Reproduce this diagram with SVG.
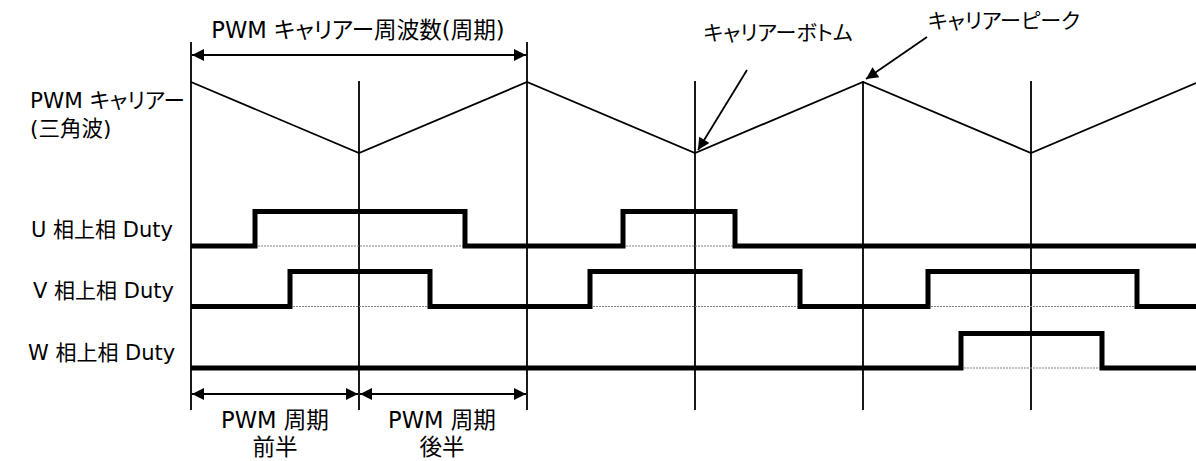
<svg xmlns="http://www.w3.org/2000/svg" width="1196" height="461" viewBox="0 0 1196 461">
<style>
text{font-family:"DejaVu Sans","Noto Sans CJK JP",sans-serif;font-size:21px;fill:#000;font-feature-settings:"palt"}
.t23{font-size:22.6px}
.t22{font-size:21.5px}
.thin{stroke:#000;stroke-width:1.8;fill:none}
.duty{stroke:#000;stroke-width:5;fill:none;stroke-linejoin:miter}
.dot{stroke:#808080;stroke-width:1.2;stroke-dasharray:2 1;fill:none}
.arr{stroke:#000;stroke-width:1.8;fill:none}
</style>
<defs>
<marker id="ah" viewBox="0 0 10 10" refX="10" refY="5" markerWidth="15" markerHeight="12" markerUnits="userSpaceOnUse" orient="auto-start-reverse">
<path d="M0,0 L10,5 L0,10 Z" fill="#000"/>
</marker>
</defs>
<rect width="1196" height="461" fill="#fff"/>
<g id="grid">
<line class="thin" x1="191" y1="42" x2="191" y2="410"/>
<line class="thin" x1="527" y1="42" x2="527" y2="410"/>
<line class="thin" x1="359" y1="81" x2="359" y2="410"/>
<line class="thin" x1="695" y1="81" x2="695" y2="410"/>
<line class="thin" x1="863" y1="81" x2="863" y2="410"/>
<line class="thin" x1="1031" y1="81" x2="1031" y2="410"/>
</g>
<g id="carrier">
<polyline class="thin" points="191,82 359,153 527,82 695,153 863,82 1031,153 1196,83"/>
</g>
<g id="dotted">
<line class="dot" x1="255" y1="246" x2="465" y2="246"/>
<line class="dot" x1="623" y1="246" x2="735" y2="246"/>
<line class="dot" x1="290" y1="306.5" x2="430" y2="306.5"/>
<line class="dot" x1="590" y1="306.5" x2="800" y2="306.5"/>
<line class="dot" x1="928" y1="306.5" x2="1137" y2="306.5"/>
<line class="dot" x1="961" y1="368" x2="1102" y2="368"/>
</g>
<g id="u-duty">
<polyline class="duty" points="191,246 255,246 255,211.5 465,211.5 465,246 623,246 623,211.5 735,211.5 735,246 1196,246"/>
</g>
<g id="v-duty">
<polyline class="duty" points="191,306.5 290,306.5 290,271.5 430,271.5 430,306.5 590,306.5 590,271.5 800,271.5 800,306.5 928,306.5 928,271.5 1137,271.5 1137,306.5 1196,306.5"/>
</g>
<g id="w-duty">
<polyline class="duty" points="191,368 961,368 961,333.5 1102,333.5 1102,368 1196,368"/>
</g>
<g id="connectors">
<line class="arr" x1="192" y1="55" x2="526" y2="55" marker-start="url(#ah)" marker-end="url(#ah)"/>
<line class="arr" x1="192" y1="394" x2="358" y2="394" marker-start="url(#ah)" marker-end="url(#ah)"/>
<line class="arr" x1="360" y1="394" x2="526" y2="394" marker-start="url(#ah)" marker-end="url(#ah)"/>
<line class="arr" x1="747" y1="70" x2="698" y2="150" marker-end="url(#ah)"/>
<line class="arr" x1="927" y1="37" x2="866" y2="79" marker-end="url(#ah)"/>
</g>
<g id="labels">
<text class="t23" x="358" y="38" text-anchor="middle">PWM キャリアー周波数(周期)</text>
<text x="778" y="40" text-anchor="middle">キャリアーボトム</text>
<text x="1004" y="28" text-anchor="middle">キャリアーピーク</text>
<text class="t22" x="30" y="108">PWM キャリアー</text>
<text class="t22" x="30" y="136">(三角波)</text>
<text x="31" y="237">U 相上相 Duty</text>
<text x="33" y="298">V 相上相 Duty</text>
<text x="28" y="360">W 相上相 Duty</text>
<text class="t23" x="275" y="428" text-anchor="middle">PWM 周期</text>
<text class="t23" x="275" y="455" text-anchor="middle">前半</text>
<text class="t23" x="442" y="428" text-anchor="middle">PWM 周期</text>
<text class="t23" x="442" y="455" text-anchor="middle">後半</text>
</g>
</svg>
